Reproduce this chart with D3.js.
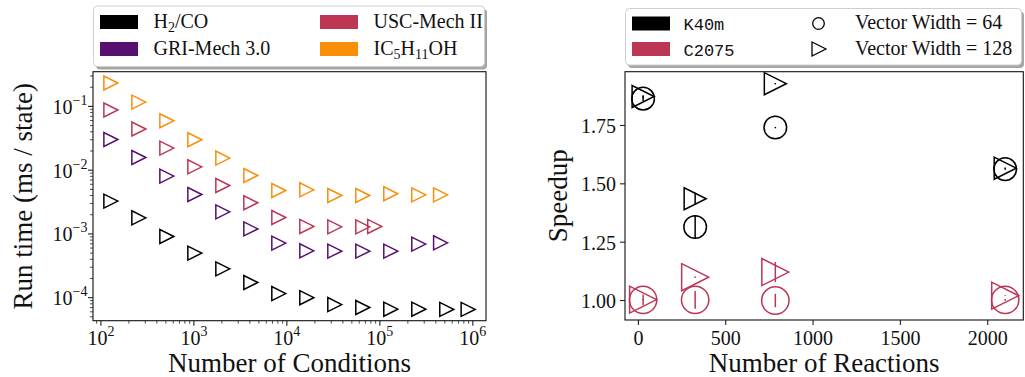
<!DOCTYPE html>
<html>
<head>
<meta charset="utf-8">
<script src="https://cdn.jsdelivr.net/npm/d3@7"></script>
<style>
  body { margin: 0; background: #fff; }
  svg { display: block; }
  text { fill: #111; }
</style>
</head>
<body>
<svg id="fig" width="1025" height="377"></svg>
<script>
// ---- Run time per state vs. number of conditions (log–log) ----
const mechNames = ["H2/CO", "GRI-Mech 3.0", "USC-Mech II", "IC5H11OH"];
const mechIsFormula = [true, false, false, true];
const mechColors = ["#000000", "#57106e", "#bc3754", "#f98e09"];

const condH2CO = [128, 256, 512, 1024, 2048, 4096, 8192, 16384, 32768, 65536, 131072, 262144, 524288, 890000];
const runH2CO  = [0.00327, 0.00179, 0.00091, 0.000500, 0.000283, 0.000173, 0.000116, 0.000100, 0.000078, 0.000070, 0.000066, 0.000066, 0.0000655, 0.0000655];

const condGRI = [128, 256, 512, 1024, 2048, 4096, 8192, 16384, 32768, 65536, 131072, 262144, 450000];
const runGRI  = [0.0303, 0.0158, 0.00807, 0.00416, 0.00222, 0.00120, 0.000718, 0.000543, 0.000537, 0.000537, 0.000537, 0.000692, 0.000725];

const condUSC = [128, 256, 512, 1024, 2048, 4096, 8192, 16384, 32768, 65536, 88000];
const runUSC  = [0.0878, 0.0442, 0.0222, 0.0113, 0.00575, 0.00308, 0.00181, 0.00131, 0.00129, 0.00129, 0.00131];

const condIC5 = [128, 256, 512, 1024, 2048, 4096, 8192, 16384, 32768, 65536, 131072, 262144, 450000];
const runIC5  = [0.233, 0.117, 0.0597, 0.0300, 0.0155, 0.00826, 0.00480, 0.00492, 0.00401, 0.00401, 0.00427, 0.00410, 0.00410];

const xTickExps = [2, 3, 4, 5, 6];
const yTickExps = [-4, -3, -2, -1];

// ---- Speedup vs. number of reactions ----
const reactions = [27, 325, 784, 2100];
const speedK40m64   = [1.865, 1.315, 1.741, 1.563];
const errK40m64     = [0.010, 0.050, 0.003, 0.003];
const speedK40m128  = [1.874, 1.436, 1.929, 1.567];
const errK40m128    = [0.005, 0.026, 0.003, 0.003];
const speedC2075_64  = [1.003, 1.003, 1.000, 1.003];
const errC2075_64    = [0.023, 0.038, 0.029, 0.004];
const speedC2075_128 = [1.004, 1.100, 1.122, 1.021];
const errC2075_128   = [0.003, 0.003, 0.043, 0.002];

const gpuNames = ["K40m", "C2075"];
const gpuColors = ["#000000", "#bc3754"];
const widthLabels = ["Vector Width = 64", "Vector Width = 128"];
const xTicksR = [0, 500, 1000, 1500, 2000];
const yTicksR = [1.00, 1.25, 1.50, 1.75];

// ---------------------------------------------------------------
const svg = d3.select("#fig");
svg.append("rect").attr("width", 1025).attr("height", 377).attr("fill", "#fff");

const SERIF = "'Liberation Serif', 'Times New Roman', serif";
const MONO = "'Liberation Mono', 'DejaVu Sans Mono', monospace";
const TICK_FS = 20, SUP_FS = 14, LABEL_FS = 27, LEG_FS = 20;
const MAJOR = 5, MINOR = 3;

function padLog(vals) {
  const lo = Math.log10(d3.min(vals)), hi = Math.log10(d3.max(vals));
  const m = 0.05 * (hi - lo);
  return [Math.pow(10, lo - m), Math.pow(10, hi + m)];
}
function padLin(lo, hi) {
  const m = 0.05 * (hi - lo);
  return [lo - m, hi + m];
}
function triRight(x, y, s) {
  const h = s / 2;
  return `M${x + h},${y}L${x - h},${y - h}L${x - h},${y + h}Z`;
}
function powerLabel(sel, exp) {
  sel.append("tspan").text("10");
  sel.append("tspan").attr("dy", -9).attr("font-size", SUP_FS)
     .text(exp < 0 ? "\u2212" + (-exp) : String(exp));
}
// chemical formula: digits become subscripts
function formulaText(sel, name) {
  const parts = name.match(/\d+|[^\d]+/g);
  let offset = 0;
  parts.forEach(p => {
    const isSub = /^\d+$/.test(p);
    const target = isSub ? 4 : 0;
    const t = sel.append("tspan").attr("dy", target - offset).text(p);
    if (isSub) t.attr("font-size", 14);
    offset = target;
  });
}

// =================== Left panel ===================
const L = { x0: 93, x1: 486, y0: 71.7, y1: 320.7 };
const series = [
  { c: condH2CO, r: runH2CO },
  { c: condGRI, r: runGRI },
  { c: condUSC, r: runUSC },
  { c: condIC5, r: runIC5 }
];
const allCond = [].concat(condH2CO, condGRI, condUSC, condIC5);
const allRun = [].concat(runH2CO, runGRI, runUSC, runIC5);

const xL = d3.scaleLog().domain(padLog(allCond)).range([L.x0, L.x1]);
const yL = d3.scaleLog().domain(padLog(allRun)).range([L.y1, L.y0]);

const gL = svg.append("g");

// minor + major ticks, x
const [xdl, xdh] = xL.domain();
for (let e = Math.floor(Math.log10(xdl)); e <= Math.ceil(Math.log10(xdh)); e++) {
  for (let k = 1; k <= 9; k++) {
    const v = k * Math.pow(10, e);
    if (v < xdl || v > xdh) continue;
    const px = xL(v);
    gL.append("line").attr("x1", px).attr("x2", px)
      .attr("y1", L.y1).attr("y2", L.y1 + (k === 1 ? MAJOR : MINOR))
      .attr("stroke", "#222").attr("stroke-width", k === 1 ? 1.1 : 0.8);
  }
}
// minor + major ticks, y
const [ydl, ydh] = yL.domain();
for (let e = Math.floor(Math.log10(ydl)); e <= Math.ceil(Math.log10(ydh)); e++) {
  for (let k = 1; k <= 9; k++) {
    const v = k * Math.pow(10, e);
    if (v < ydl || v > ydh) continue;
    const py = yL(v);
    gL.append("line").attr("y1", py).attr("y2", py)
      .attr("x1", L.x0).attr("x2", L.x0 - (k === 1 ? MAJOR : MINOR))
      .attr("stroke", "#222").attr("stroke-width", k === 1 ? 1.1 : 0.8);
  }
}

xTickExps.forEach(e => {
  const t = gL.append("text").attr("x", xL(Math.pow(10, e))).attr("y", 345)
    .attr("text-anchor", "middle").attr("font-family", SERIF).attr("font-size", TICK_FS);
  powerLabel(t, e);
});
yTickExps.forEach(e => {
  const t = gL.append("text").attr("x", 87.5).attr("y", yL(Math.pow(10, e)) + 7.5)
    .attr("text-anchor", "end").attr("font-family", SERIF).attr("font-size", TICK_FS);
  powerLabel(t, e);
});

// markers
series.forEach((s, i) => {
  gL.append("g").selectAll("path").data(s.c).join("path")
    .attr("d", (c, j) => triRight(xL(c), yL(s.r[j]), 14))
    .attr("fill", "none").attr("stroke", mechColors[i])
    .attr("stroke-width", 1.5).attr("stroke-linejoin", "miter");
});

gL.append("rect").attr("x", L.x0).attr("y", L.y0)
  .attr("width", L.x1 - L.x0).attr("height", L.y1 - L.y0)
  .attr("fill", "none").attr("stroke", "#111").attr("stroke-width", 1.1);

gL.append("text").attr("x", (L.x0 + L.x1) / 2).attr("y", 371.5)
  .attr("text-anchor", "middle").attr("font-family", SERIF).attr("font-size", LABEL_FS)
  .text("Number of Conditions");
gL.append("text").attr("transform", `translate(32,${(L.y0 + L.y1) / 2}) rotate(-90)`)
  .attr("text-anchor", "middle").attr("font-family", SERIF).attr("font-size", LABEL_FS)
  .text("Run time (ms / state)");

// legend
function legendBox(g, x, y, w, h) {
  g.append("rect").attr("x", x + 2.5).attr("y", y + 3).attr("width", w).attr("height", h)
    .attr("rx", 4).attr("fill", "#a6a6a6");
  g.append("rect").attr("x", x).attr("y", y).attr("width", w).attr("height", h)
    .attr("rx", 4).attr("fill", "#fff").attr("stroke", "#cfcfcf").attr("stroke-width", 1);
}
const legL = svg.append("g");
legendBox(legL, 93.5, 6, 391, 60.5);
const legPos = [[100, 15, 153.5, 27.5], [100, 42, 153.5, 55], [320, 15, 373.5, 27.5], [320, 42, 373.5, 55]];
mechNames.forEach((name, k) => {
  const [px, py, tx, ty] = legPos[k];
  legL.append("rect").attr("x", px).attr("y", py).attr("width", 38).attr("height", 14)
    .attr("fill", mechColors[k]);
  const t = legL.append("text").attr("x", tx).attr("y", ty)
    .attr("font-family", SERIF).attr("font-size", LEG_FS);
  if (mechIsFormula[k]) formulaText(t, name);
  else t.text(name);
});

// =================== Right panel ===================
const R = { x0: 625, x1: 1023.3, y0: 71.7, y1: 320 };
const rSeries = [
  { y: speedK40m64, e: errK40m64, gpu: 0, shape: "circle", size: 22.6 },
  { y: speedK40m128, e: errK40m128, gpu: 0, shape: "tri", size: 22 },
  { y: speedC2075_64, e: errC2075_64, gpu: 1, shape: "circle", size: 27.4 },
  { y: speedC2075_128, e: errC2075_128, gpu: 1, shape: "tri", size: 27 }
];
const lows = [], highs = [];
rSeries.forEach(s => s.y.forEach((v, j) => { lows.push(v - s.e[j]); highs.push(v + s.e[j]); }));

const xR = d3.scaleLinear().domain(padLin(d3.min(reactions), d3.max(reactions))).range([R.x0, R.x1]);
const yR = d3.scaleLinear().domain(padLin(d3.min(lows), d3.max(highs))).range([R.y1, R.y0]);

const gR = svg.append("g");
xTicksR.forEach(v => {
  gR.append("line").attr("x1", xR(v)).attr("x2", xR(v)).attr("y1", R.y1).attr("y2", R.y1 + MAJOR)
    .attr("stroke", "#222").attr("stroke-width", 1.1);
  gR.append("text").attr("x", xR(v)).attr("y", 345).attr("text-anchor", "middle")
    .attr("font-family", SERIF).attr("font-size", TICK_FS).text(v);
});
yTicksR.forEach(v => {
  gR.append("line").attr("y1", yR(v)).attr("y2", yR(v)).attr("x1", R.x0).attr("x2", R.x0 - MAJOR)
    .attr("stroke", "#222").attr("stroke-width", 1.1);
  gR.append("text").attr("x", 616).attr("y", yR(v) + 7.5).attr("text-anchor", "end")
    .attr("font-family", SERIF).attr("font-size", TICK_FS).text(d3.format(".2f")(v));
});

rSeries.forEach(s => {
  const col = gpuColors[s.gpu];
  const g = gR.append("g");
  // error bars
  g.selectAll("line").data(reactions).join("line")
    .attr("x1", d => xR(d)).attr("x2", d => xR(d))
    .attr("y1", (d, j) => yR(s.y[j] - s.e[j])).attr("y2", (d, j) => yR(s.y[j] + s.e[j]))
    .attr("stroke", col).attr("stroke-width", 1.5);
  if (s.shape === "circle") {
    g.selectAll("circle").data(reactions).join("circle")
      .attr("cx", d => xR(d)).attr("cy", (d, j) => yR(s.y[j])).attr("r", s.size / 2)
      .attr("fill", "none").attr("stroke", col).attr("stroke-width", 1.5);
  } else {
    g.selectAll("path").data(reactions).join("path")
      .attr("d", (d, j) => triRight(xR(d), yR(s.y[j]), s.size))
      .attr("fill", "none").attr("stroke", col).attr("stroke-width", 1.5);
  }
});

gR.append("rect").attr("x", R.x0).attr("y", R.y0)
  .attr("width", R.x1 - R.x0).attr("height", R.y1 - R.y0)
  .attr("fill", "none").attr("stroke", "#111").attr("stroke-width", 1.1);

gR.append("text").attr("x", (R.x0 + R.x1) / 2).attr("y", 371.5)
  .attr("text-anchor", "middle").attr("font-family", SERIF).attr("font-size", LABEL_FS)
  .text("Number of Reactions");
gR.append("text").attr("transform", `translate(567,${(R.y0 + R.y1) / 2}) rotate(-90)`)
  .attr("text-anchor", "middle").attr("font-family", SERIF).attr("font-size", LABEL_FS)
  .text("Speedup");

// legend
const legR = svg.append("g");
legendBox(legR, 625.5, 8.5, 396, 56.5);
gpuNames.forEach((n, i) => {
  const cy = [16.5, 42][i];
  legR.append("rect").attr("x", 632).attr("y", cy).attr("width", 38).attr("height", 14)
    .attr("fill", gpuColors[i]);
  legR.append("text").attr("x", 683.5).attr("y", [29.5, 55.5][i])
    .attr("font-family", MONO).attr("font-size", 17).text(n);
});
legR.append("circle").attr("cx", 818.5).attr("cy", 23.5).attr("r", 5.8)
  .attr("fill", "none").attr("stroke", "#000").attr("stroke-width", 1.3);
legR.append("path").attr("d", triRight(819, 49, 14))
  .attr("fill", "none").attr("stroke", "#000").attr("stroke-width", 1.3);
widthLabels.forEach((w, i) => {
  legR.append("text").attr("x", 855).attr("y", [28.5, 55][i])
    .attr("font-family", SERIF).attr("font-size", LEG_FS).text(w);
});
</script>
</body>
</html>
